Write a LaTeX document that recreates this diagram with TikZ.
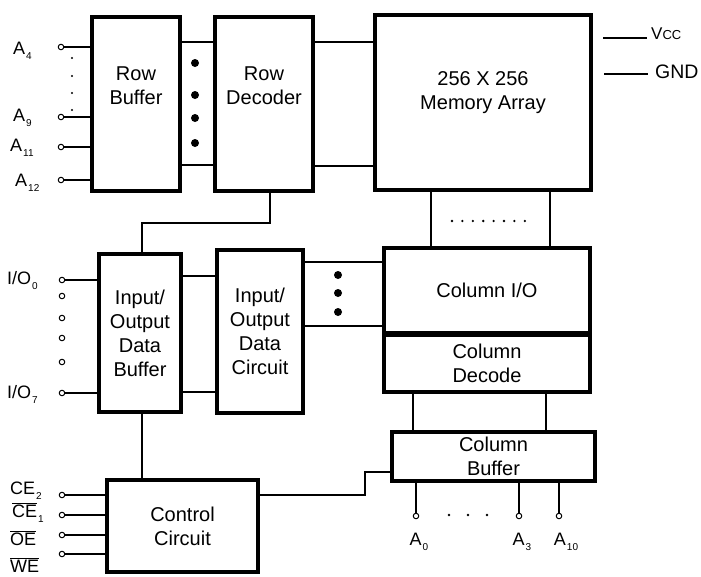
\documentclass[tikz,border=0pt]{standalone}
\usepackage{fontspec}
\setmainfont{Liberation Sans}
\usetikzlibrary{positioning}

\newcommand{\pinsub}[1]{\kern1pt\raisebox{-5pt}{\fontsize{10}{10}\selectfont #1}}
\newcommand{\pinbar}[1]{$\overline{\hbox{#1}}$}

\begin{document}
\begin{tikzpicture}[x=1pt, y=-1pt,
    blk/.style={draw, line width=3.8pt, inner sep=0pt, outer sep=0pt,
      align=center, font=\fontsize{20}{24}\selectfont},
    txt/.style={align=center, inner sep=0pt, font=\fontsize{20}{24}\selectfont},
    wire/.style={line width=1.6pt},
    pin/.style={circle, draw, fill=white, line width=1pt, inner sep=0pt,
      minimum size=5.5pt},
    plabel/.style={anchor=base west, inner sep=0pt, font=\fontsize{18}{18}\selectfont},
    clabel/.style={anchor=base, inner sep=0pt, font=\fontsize{18}{18}\selectfont}]

    \useasboundingbox (0,0) rectangle (701,576);

    % Blocks
    \node[blk, minimum width=88pt, minimum height=174pt] (rowbuf) at (136,104) {};
    \node[blk, minimum width=98pt, minimum height=174pt] (rowdec) at (264,104) {};
    \node[blk, minimum width=216pt, minimum height=175pt] (mem) at (483,102.5) {};
    \node[txt] (rowbuf-t) at (136,86) {Row\\Buffer};
    \node[txt] (rowdec-t) at (264,86) {Row\\Decoder};
    \node[txt] (mem-t) at (483,93) {256 X 256\\Memory Array};

    \node[blk, minimum width=82pt, minimum height=158pt] (iobuf) at (140,333)
      {Input/\\Output\\Data\\Buffer};
    \node[blk, minimum width=86pt, minimum height=163pt] (iocirc) at (260,331.5)
      {Input/\\Output\\Data\\Circuit};
    \node[blk, minimum width=206pt, minimum height=84.5pt] (colio) at (487,290.25)
      {Column I/O};
    \node[blk, minimum width=206pt, minimum height=56.5pt] (coldec) at (487,363.75)
      {Column\\Decode};
    \node[blk, minimum width=203pt, minimum height=49pt] (colbuf) at (493.5,456.5)
      {Column\\Buffer};
    \node[blk, minimum width=151pt, minimum height=92pt] (ctrl) at (182.5,526)
      {Control\\Circuit};

    % Row address pins
    \node[pin] (pa4) at (61,47) {};
    \node[pin] (pa9) at (61,117) {};
    \node[pin] (pa11) at (61,147) {};
    \node[pin] (pa12) at (61,180) {};
    \foreach \p in {pa4,pa9,pa11,pa12}
      \draw[wire] (\p) -- (\p -| rowbuf.west);
    \foreach \y in {58,76,93,110}
      \fill (72,\y) circle (1.2pt);
    \node[plabel] (la4) at (13,54) {A\pinsub{4}};
    \node[plabel] (la9) at (13,121) {A\pinsub{9}};
    \node[plabel] (la11) at (10,151) {A\pinsub{11}};
    \node[plabel] (la12) at (15,186) {A\pinsub{12}};

    % Row buffer to decoder to array
    \draw[wire] (rowbuf.east |- 0,42) -- (rowdec.west |- 0,42);
    \draw[wire] (rowbuf.east |- 0,165) -- (rowdec.west |- 0,165);
    \foreach \y in {63,95,118,143}
      \fill (195,\y) circle (4pt);
    \draw[wire] (rowdec.east |- 0,42) -- (mem.west |- 0,42);
    \draw[wire] (rowdec.east |- 0,166) -- (mem.west |- 0,166);

    % Power
    \coordinate (vcc) at (603,38);
    \coordinate (gnd) at (604,74);
    \draw[wire] (vcc) -- ++(44,0);
    \draw[wire] (gnd) -- ++(44,0);
    \node[anchor=base west, inner sep=0pt, font=\fontsize{17}{17}\selectfont] (lvcc)
      at (651,39) {V{\fontsize{13}{13}\selectfont CC}};
    \node[anchor=base west, inner sep=0pt, font=\fontsize{19.5}{19.5}\selectfont] (lgnd)
      at (655,78) {GND};

    % Array to column I/O
    \draw[wire] (mem.south -| 431,0) -- (colio.north -| 431,0);
    \draw[wire] (mem.south -| 550,0) -- (colio.north -| 550,0);
    \foreach \i in {0,...,7}
      \fill (452+\i*10.4,221) circle (1.3pt);

    % Row decoder to I/O buffer
    \draw[wire] ([xshift=6pt]rowdec.south) -- ++(0,32) -| ([xshift=2pt]iobuf.north);
    \draw[wire] ([xshift=2pt]iobuf.south) -- ([xshift=2pt]iobuf.south |- ctrl.north);

    % I/O pins
    \node[pin] (pio0) at (62,280) {};
    \node[pin] (pio7) at (62,393) {};
    \foreach \y [count=\k] in {296,318,338,362}
      \node[pin] (pio-m\k) at (62,\y) {};
    \draw[wire] (pio0) -- (pio0 -| iobuf.west);
    \draw[wire] (pio7) -- (pio7 -| iobuf.west);
    \node[plabel] (lio0) at (7,284) {I/O\pinsub{0}};
    \node[plabel] (lio7) at (7,398) {I/O\pinsub{7}};

    % I/O buffer to circuit to column I/O
    \draw[wire] (iobuf.east |- 0,276) -- (iocirc.west |- 0,276);
    \draw[wire] (iobuf.east |- 0,392) -- (iocirc.west |- 0,392);
    \draw[wire] (iocirc.east |- 0,262) -- (colio.west |- 0,262);
    \draw[wire] (iocirc.east |- 0,326) -- (colio.west |- 0,326);
    \foreach \y in {275,293,312}
      \fill (338,\y) circle (4pt);

    % Column decode to column buffer
    \draw[wire] (coldec.south -| 413,0) -- (colbuf.north -| 413,0);
    \draw[wire] (coldec.south -| 546,0) -- (colbuf.north -| 546,0);

    % Control pins
    \node[pin] (pce2) at (62,495) {};
    \node[pin] (pce1) at (62,515) {};
    \node[pin] (poe) at (62,535) {};
    \node[pin] (pwe) at (62,554) {};
    \foreach \p in {pce2,pce1,poe,pwe}
      \draw[wire] (\p) -- (\p -| ctrl.west);
    \node[plabel] (lce2) at (10,494) {CE\pinsub{2}};
    \node[plabel] (lce1) at (12,517) {\pinbar{CE}\pinsub{1}};
    \node[plabel] (loe) at (10,545) {\pinbar{OE}};
    \node[plabel] (lwe) at (10,572) {\pinbar{WE}};

    % Control to column buffer
    \coordinate (bend) at (365,495);
    \draw[wire] (ctrl.east |- bend) -- (bend) |- (colbuf.west |- 0,472);

    % Column address pins
    \node[pin] (pa0) at (416,516) {};
    \node[pin] (pa3) at (519,516) {};
    \node[pin] (pa10) at (559,516) {};
    \foreach \p in {pa0,pa3,pa10}
      \draw[wire] (colbuf.south -| \p) -- (\p);
    \foreach \x in {449,468,487}
      \fill (\x,515) circle (1.3pt);
    \node[clabel] (la0) at (419,545) {A\pinsub{0}};
    \node[clabel] (la3) at (522,545) {A\pinsub{3}};
    \node[clabel] (la10) at (566,545) {A\pinsub{10}};

\end{tikzpicture}
\end{document}
